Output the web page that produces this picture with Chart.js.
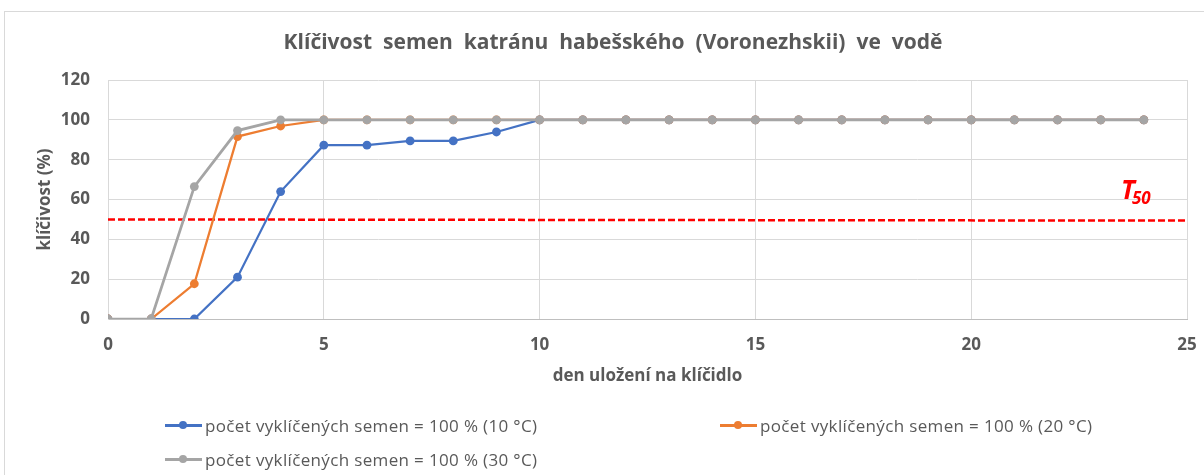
<!DOCTYPE html>
<html>
<head>
<meta charset="utf-8">
<script src="https://cdn.jsdelivr.net/npm/chart.js@4.4.1/dist/chart.umd.min.js"></script>
<style>
  html, body { margin: 0; padding: 0; background: #fff; }
  #wrap { position: relative; width: 1204px; height: 475px; overflow: hidden; }
  #frame { position: absolute; left: 4px; top: 11px; width: 1220px; height: 500px; border: 1px solid #d9d9d9; box-sizing: border-box; }
  #cv { position: absolute; left: 0; top: 0; }
  .leg { position: absolute; font-family: "Open Sans", sans-serif; font-size: 17px; letter-spacing: 0.35px; color: #595959; white-space: nowrap; display: flex; align-items: center; height: 24px; }
  .leg .sym { position: relative; width: 37px; height: 10px; margin-right: 3px; flex: none; }
  .leg .sym i { position: absolute; left: 0; right: 0; top: 4px; height: 2.5px; }
  .leg .sym b { position: absolute; left: 14px; top: 1px; width: 8px; height: 8px; border-radius: 50%; }
</style>
</head>
<body>
<div id="wrap">
  <div id="frame"></div>
  <canvas id="cv" width="1204" height="475"></canvas>
  <div id="legend"></div>
</div>
<script>
const days = [0,1,2,3,4,5,6,7,8,9,10,11,12,13,14,15,16,17,18,19,20,21,22,23,24];
const germ10 = [0,0,0,21,64,87.3,87.3,89.4,89.4,93.9,100,100,100,100,100,100,100,100,100,100,100,100,100,100,100];
const germ20 = [0,0,17.7,91.6,96.9,100,100,100,100,100,100,100,100,100,100,100,100,100,100,100,100,100,100,100,100];
const germ30 = [0,0,66.5,94.6,100,100,100,100,100,100,100,100,100,100,100,100,100,100,100,100,100,100,100,100,100];
const t50X = [0, 25];
const t50Y = [50, 49.4];
const seriesNames = [
  "počet vyklíčených semen = 100 % (10 °C)",
  "počet vyklíčených semen = 100 % (20 °C)",
  "počet vyklíčených semen = 100 % (30 °C)"
];
const titleText = "Klíčivost semen katránu habešského (Voronezhskii) ve vodě";
const xTitle = "den uložení na klíčidlo";
const yTitle = "klíčivost (%)";
const t50Label = { main: "T", sub: "50", x: 23.47, y: 60.3 };

const colors = ["#4472C4", "#ED7D31", "#A5A5A5"];
const toPts = (xs, ys) => xs.map((x, i) => ({ x: x, y: ys[i] }));
const FONT = "'Open Sans', sans-serif";
const GREY = "#595959";

function series(i, data, order, width) {
  return {
    label: seriesNames[i],
    data: toPts(days, data),
    borderColor: colors[i],
    backgroundColor: colors[i],
    pointBackgroundColor: colors[i],
    pointBorderColor: colors[i],
    pointRadius: 4.4,
    pointBorderWidth: 0,
    borderWidth: width,
    showLine: true,
    tension: 0,
    order: order
  };
}

const titlePlugin = {
  id: "excelTitle",
  afterDraw(chart) {
    const ctx = chart.ctx;
    ctx.save();
    ctx.fillStyle = GREY;
    ctx.font = "bold 21px " + FONT;
    ctx.textAlign = "center";
    ctx.textBaseline = "middle";
    try { ctx.wordSpacing = "5.5px"; } catch (e) {}
    ctx.fillText(titleText, 613, 43);
    ctx.restore();
  }
};

const t50Plugin = {
  id: "t50",
  afterDatasetsDraw(chart) {
    const { ctx, scales } = chart;
    const px = scales.x.getPixelForValue(t50Label.x);
    const py = scales.y.getPixelForValue(t50Label.y);
    ctx.save();
    ctx.fillStyle = "#FF0000";
    ctx.textBaseline = "alphabetic";
    ctx.textAlign = "left";
    ctx.font = "italic bold 26px " + FONT;
    ctx.fillText(t50Label.main, px, py);
    ctx.font = "italic bold 17px " + FONT;
    ctx.fillText(t50Label.sub, px + 11, py + 5);
    ctx.restore();
  }
};

new Chart(document.getElementById("cv"), {
  type: "scatter",
  data: {
    datasets: [
      series(0, germ10, 3, 2.25),
      series(1, germ20, 2, 2.25),
      series(2, germ30, 1, 2.75),
      {
        label: "T50",
        data: toPts(t50X, t50Y),
        showLine: true,
        borderColor: "#FF0000",
        borderWidth: 2.5,
        borderDash: [7, 3],
        pointRadius: 0,
        order: 4
      }
    ]
  },
  options: {
    responsive: false,
    animation: false,
    layout: { padding: { left: 0, right: 17, top: 80, bottom: 81 } },
    plugins: {
      legend: { display: false },
      tooltip: { enabled: false },
      title: { display: false }
    },
    scales: {
      x: {
        type: "linear",
        min: 0, max: 25,
        ticks: { stepSize: 5, color: GREY, font: { family: FONT, size: 17, weight: "bold" }, padding: 6 },
        grid: { color: "#d9d9d9", drawTicks: true, tickLength: 10, tickColor: "rgba(0,0,0,0)", lineWidth: 1 },
        border: { color: "#bfbfbf" },
        title: { display: true, text: xTitle, color: GREY, font: { family: FONT, size: 17, weight: "bold" }, padding: { top: 0, bottom: 8 } },
        afterFit(s) { s.height = 75; }
      },
      y: {
        min: 0, max: 120,
        ticks: { stepSize: 20, color: GREY, font: { family: FONT, size: 17, weight: "bold" }, padding: 18 },
        grid: { color: "#d9d9d9", drawTicks: false, lineWidth: 1 },
        border: { color: "#d9d9d9" },
        title: { display: true, text: yTitle, color: GREY, font: { family: FONT, size: 17, weight: "bold" }, padding: { top: 35, bottom: 0 } },
        afterFit(s) { s.width = 108; }
      }
    }
  },
  plugins: [t50Plugin, titlePlugin]
});

// HTML legend
const legendPos = [[165, 413], [720, 413], [165, 447]];
const legend = document.getElementById("legend");
seriesNames.forEach((name, i) => {
  const d = document.createElement("div");
  d.className = "leg";
  d.style.left = legendPos[i][0] + "px";
  d.style.top = legendPos[i][1] + "px";
  d.innerHTML = '<span class="sym"><i style="background:' + colors[i] + '"></i><b style="background:' + colors[i] + '"></b></span><span></span>';
  d.lastChild.textContent = name;
  legend.appendChild(d);
});
</script>
</body>
</html>
